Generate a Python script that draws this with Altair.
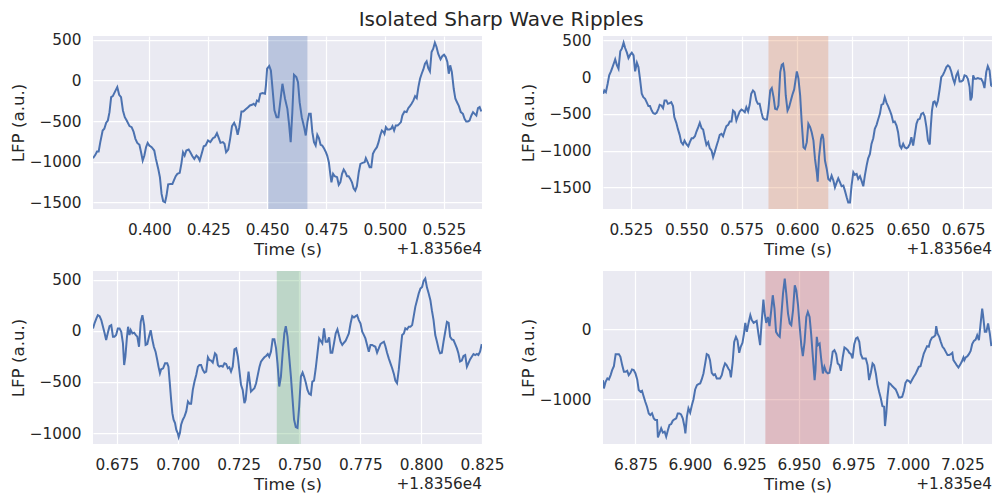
import altair as alt
import pandas as pd

# ---------------- data (time relative to axis offset, LFP a.u.) ----------------
t1 = [0.3761, 0.3771, 0.3778, 0.3785, 0.3792, 0.3802, 0.3809, 0.3817, 0.3824, 0.3831,
      0.3838, 0.3845, 0.3855, 0.3864, 0.3872, 0.3880, 0.3888, 0.3896, 0.3904, 0.3916,
      0.3925, 0.3933, 0.3941, 0.3949, 0.3958, 0.3965, 0.3972, 0.3979, 0.3986, 0.3993,
      0.4000, 0.4010, 0.4021, 0.4028, 0.4038, 0.4045, 0.4052, 0.4059, 0.4067, 0.4073,
      0.4080, 0.4090, 0.4098, 0.4104, 0.4112, 0.4119, 0.4129, 0.4136, 0.4143, 0.4150,
      0.4157, 0.4167, 0.4174, 0.4183, 0.4191, 0.4200, 0.4207, 0.4214, 0.4221, 0.4231,
      0.4239, 0.4249, 0.4259, 0.4270, 0.4278, 0.4287, 0.4295, 0.4302, 0.4312, 0.4319,
      0.4326, 0.4335, 0.4343, 0.4351, 0.4360, 0.4368, 0.4375, 0.4382, 0.4391, 0.4399,
      0.4408, 0.4418, 0.4427, 0.4436, 0.4443, 0.4450, 0.4457, 0.4464, 0.4471, 0.4481,
      0.4491, 0.4495, 0.4500, 0.4509, 0.4516, 0.4523, 0.4531, 0.4540, 0.4548, 0.4565,
      0.4576, 0.4586, 0.4593, 0.4600, 0.4607, 0.4614, 0.4624, 0.4631, 0.4638, 0.4647,
      0.4657, 0.4664, 0.4671, 0.4678, 0.4685, 0.4692, 0.4699, 0.4706, 0.4713, 0.4720,
      0.4727, 0.4734, 0.4741, 0.4748, 0.4755, 0.4762, 0.4769, 0.4773, 0.4780, 0.4787,
      0.4797, 0.4804, 0.4811, 0.4818, 0.4825, 0.4832, 0.4839, 0.4846, 0.4853, 0.4860,
      0.4867, 0.4874, 0.4881, 0.4889, 0.4896, 0.4905, 0.4914, 0.4919, 0.4928, 0.4935,
      0.4942, 0.4949, 0.4956, 0.4966, 0.4973, 0.4980, 0.4987, 0.4994, 0.4998, 0.5004,
      0.5011, 0.5019, 0.5026, 0.5032, 0.5039, 0.5046, 0.5054, 0.5061, 0.5068, 0.5074,
      0.5083, 0.5092, 0.5099, 0.5106, 0.5113, 0.5121, 0.5128, 0.5135, 0.5142, 0.5149,
      0.5156, 0.5163, 0.5170, 0.5177, 0.5184, 0.5191, 0.5198, 0.5205, 0.5212, 0.5219,
      0.5226, 0.5236, 0.5244, 0.5251, 0.5258, 0.5265, 0.5271, 0.5277, 0.5284, 0.5292,
      0.5299, 0.5307, 0.5314, 0.5322, 0.5331, 0.5338, 0.5345, 0.5352, 0.5359, 0.5367,
      0.5374, 0.5381, 0.5388, 0.5395, 0.5402, 0.5409]
v1 = [-956, -915, -874, -874, -759, -616, -595, -521, -493, -390,
      -205, -193, -135, -82, -177, -205, -369, -452, -493, -562,
      -575, -628, -718, -768, -792, -883, -985, -924, -821, -768,
      -800, -821, -862, -965, -1088, -1190, -1396, -1486, -1498, -1416,
      -1277, -1273, -1273, -1232, -1178, -1149, -1137, -1026, -883, -924,
      -862, -850, -883, -932, -965, -924, -944, -985, -915, -809,
      -800, -739, -759, -710, -698, -649, -710, -768, -759, -780,
      -883, -850, -718, -562, -521, -575, -669, -575, -382, -382,
      -357, -333, -308, -300, -287, -308, -246, -259, -164, -156,
      -164, -62, 144, 177, 123, -103, -369, -452, -452, -41,
      -226, -349, -534, -759, -390, 70, 41, -21, -267, -452,
      -575, -677, -513, -411, -411, -636, -759, -800, -669, -710,
      -792, -800, -833, -874, -924, -1006, -1170, -1252, -1149, -1178,
      -1190, -1285, -1252, -1149, -1096, -1129, -1178, -1178, -1211, -1252,
      -1326, -1355, -1301, -1129, -1026, -1014, -1006, -956, -1014, -1067,
      -1067, -903, -862, -821, -759, -677, -616, -636, -657, -575,
      -603, -603, -595, -562, -616, -554, -554, -534, -513, -431,
      -382, -390, -341, -316, -287, -246, -193, -218, -82, 21,
      82, 135, 205, 234, 152, 111, 349, 390, 464, 411,
      328, 259, 300, 316, 287, 226, 82, 185, 103, -103,
      -226, -275, -316, -390, -411, -472, -505, -505, -493, -431,
      -390, -411, -431, -341, -328, -382]

t2 = [0.5125, 0.5130, 0.5137, 0.5145, 0.5152, 0.5160, 0.5167, 0.5175, 0.5179, 0.5187,
      0.5194, 0.5202, 0.5209, 0.5217, 0.5224, 0.5232, 0.5239, 0.5247, 0.5254, 0.5262,
      0.5269, 0.5277, 0.5284, 0.5291, 0.5299, 0.5306, 0.5314, 0.5321, 0.5329, 0.5336,
      0.5344, 0.5351, 0.5359, 0.5366, 0.5374, 0.5380, 0.5387, 0.5395, 0.5402, 0.5410,
      0.5417, 0.5425, 0.5432, 0.5440, 0.5446, 0.5455, 0.5462, 0.5470, 0.5477, 0.5485,
      0.5492, 0.5500, 0.5509, 0.5516, 0.5524, 0.5531, 0.5539, 0.5546, 0.5554, 0.5561,
      0.5569, 0.5576, 0.5584, 0.5591, 0.5599, 0.5606, 0.5614, 0.5621, 0.5629, 0.5636,
      0.5644, 0.5651, 0.5659, 0.5666, 0.5674, 0.5681, 0.5689, 0.5696, 0.5704, 0.5711,
      0.5719, 0.5726, 0.5734, 0.5741, 0.5749, 0.5756, 0.5764, 0.5771, 0.5779, 0.5786,
      0.5793, 0.5801, 0.5808, 0.5816, 0.5823, 0.5831, 0.5839, 0.5846, 0.5854, 0.5864,
      0.5871, 0.5879, 0.5886, 0.5894, 0.5901, 0.5909, 0.5916, 0.5924, 0.5931, 0.5937,
      0.5943, 0.5949, 0.5957, 0.5964, 0.5972, 0.5979, 0.5987, 0.5994, 0.5999, 0.6006,
      0.6014, 0.6021, 0.6029, 0.6036, 0.6044, 0.6051, 0.6059, 0.6066, 0.6074, 0.6081,
      0.6089, 0.6093, 0.6099, 0.6108, 0.6114, 0.6119, 0.6126, 0.6134, 0.6141, 0.6149,
      0.6156, 0.6164, 0.6171, 0.6179, 0.6186, 0.6194, 0.6201, 0.6209, 0.6216, 0.6224,
      0.6231, 0.6239, 0.6246, 0.6254, 0.6261, 0.6269, 0.6276, 0.6284, 0.6291, 0.6299,
      0.6306, 0.6314, 0.6321, 0.6329, 0.6336, 0.6344, 0.6351, 0.6359, 0.6366, 0.6374,
      0.6381, 0.6389, 0.6396, 0.6404, 0.6411, 0.6419, 0.6426, 0.6434, 0.6441, 0.6449,
      0.6456, 0.6464, 0.6471, 0.6479, 0.6486, 0.6494, 0.6501, 0.6509, 0.6516, 0.6524,
      0.6531, 0.6539, 0.6546, 0.6554, 0.6561, 0.6569, 0.6576, 0.6584, 0.6591, 0.6599,
      0.6603, 0.6609, 0.6615, 0.6621, 0.6629, 0.6636, 0.6644, 0.6651, 0.6659, 0.6666,
      0.6674, 0.6681, 0.6689, 0.6696, 0.6704, 0.6711, 0.6719, 0.6726, 0.6734, 0.6741,
      0.6749, 0.6756, 0.6764, 0.6771, 0.6779, 0.6783, 0.6789, 0.6795, 0.6801, 0.6809,
      0.6816, 0.6824, 0.6831, 0.6839, 0.6846, 0.6854, 0.6861, 0.6869, 0.6876, 0.6883]
v2 = [-227, -182, -205, -91, 23, 77, 136, 205, 241, 159,
      114, 350, 386, 468, 395, 332, 259, 305, 332, 295,
      77, 195, 136, -23, -227, -273, -295, -341, -395, -395,
      -455, -491, -500, -486, -432, -377, -386, -423, -318, -318,
      -364, -355, -341, -395, -545, -623, -705, -786, -886, -918,
      -864, -909, -941, -886, -832, -832, -805, -741, -682, -623,
      -695, -714, -832, -923, -886, -968, -1000, -1091, -1014, -941,
      -864, -786, -773, -805, -727, -668, -650, -605, -605, -455,
      -477, -591, -523, -468, -441, -455, -477, -409, -468, -377,
      -227, -182, -205, -318, -364, -364, -477, -559, -577, -577,
      -432, -182, -150, -273, -432, -441, -386, 68, 168, 182,
      68, -250, -455, -409, -318, -241, -168, -23, 77, -14,
      -250, -614, -955, -977, -886, -636, -682, -750, -864, -1114,
      -1295, -1423, -1091, -841, -773, -841, -1136, -1250, -1386, -1409,
      -1341, -1409, -1500, -1432, -1377, -1432, -1486, -1477, -1545, -1636,
      -1705, -1705, -1477, -1295, -1332, -1318, -1386, -1350, -1409, -1486,
      -1341, -1205, -1105, -1045, -909, -832, -705, -650, -577, -500,
      -377, -364, -273, -350, -395, -455, -514, -614, -605, -659,
      -750, -932, -968, -909, -955, -968, -955, -909, -818, -932,
      -795, -636, -577, -568, -500, -486, -532, -682, -864, -918,
      -705, -455, -341, -332, -386, -318, -159, 0, 32, 77,
      136, 159, 136, 77, -23, -82, 23, 68, -59, -59,
      -45, 23, 14, -23, -136, -318, -273, 23, -23, -23,
      -14, -23, -23, -68, -150, 68, 150, 91, -114, -127]

t3 = [0.6652, 0.6659, 0.6666, 0.6672, 0.6679, 0.6686, 0.6693, 0.6700, 0.6706, 0.6713,
      0.6720, 0.6727, 0.6734, 0.6740, 0.6747, 0.6754, 0.6761, 0.6768, 0.6775, 0.6780,
      0.6785, 0.6791, 0.6796, 0.6802, 0.6807, 0.6814, 0.6821, 0.6828, 0.6834, 0.6841,
      0.6848, 0.6855, 0.6862, 0.6868, 0.6875, 0.6882, 0.6889, 0.6896, 0.6902, 0.6909,
      0.6916, 0.6921, 0.6927, 0.6932, 0.6940, 0.6948, 0.6957, 0.6962, 0.6967, 0.6973,
      0.6978, 0.6983, 0.6989, 0.6994, 0.7000, 0.7004, 0.7009, 0.7014, 0.7021, 0.7028,
      0.7035, 0.7042, 0.7049, 0.7055, 0.7062, 0.7069, 0.7076, 0.7083, 0.7089, 0.7096,
      0.7103, 0.7110, 0.7117, 0.7124, 0.7130, 0.7137, 0.7144, 0.7153, 0.7159, 0.7165,
      0.7171, 0.7178, 0.7185, 0.7192, 0.7199, 0.7206, 0.7212, 0.7219, 0.7226, 0.7233,
      0.7240, 0.7247, 0.7253, 0.7260, 0.7267, 0.7274, 0.7279, 0.7285, 0.7291, 0.7296,
      0.7301, 0.7308, 0.7315, 0.7322, 0.7329, 0.7336, 0.7342, 0.7349, 0.7356, 0.7363,
      0.7370, 0.7376, 0.7383, 0.7390, 0.7397, 0.7404, 0.7410, 0.7417, 0.7424, 0.7431,
      0.7438, 0.7444, 0.7451, 0.7458, 0.7465, 0.7472, 0.7478, 0.7485, 0.7492, 0.7499,
      0.7506, 0.7513, 0.7519, 0.7526, 0.7533, 0.7540, 0.7547, 0.7553, 0.7560, 0.7567,
      0.7574, 0.7581, 0.7587, 0.7594, 0.7601, 0.7608, 0.7615, 0.7622, 0.7628, 0.7635,
      0.7642, 0.7649, 0.7656, 0.7662, 0.7669, 0.7676, 0.7683, 0.7690, 0.7696, 0.7703,
      0.7710, 0.7717, 0.7724, 0.7731, 0.7737, 0.7744, 0.7751, 0.7758, 0.7765, 0.7771,
      0.7778, 0.7785, 0.7792, 0.7799, 0.7806, 0.7812, 0.7819, 0.7826, 0.7833, 0.7840,
      0.7847, 0.7853, 0.7860, 0.7867, 0.7874, 0.7881, 0.7888, 0.7894, 0.7901, 0.7908,
      0.7915, 0.7922, 0.7929, 0.7935, 0.7942, 0.7949, 0.7956, 0.7963, 0.7969, 0.7976,
      0.7983, 0.7990, 0.7997, 0.8004, 0.8010, 0.8017, 0.8024, 0.8031, 0.8038, 0.8044,
      0.8051, 0.8058, 0.8065, 0.8072, 0.8078, 0.8085, 0.8092, 0.8099, 0.8106, 0.8113,
      0.8119, 0.8126, 0.8133, 0.8140, 0.8147, 0.8153, 0.8160, 0.8167, 0.8174, 0.8181,
      0.8188, 0.8194, 0.8201, 0.8208, 0.8215, 0.8222, 0.8229, 0.8235, 0.8242, 0.8249]
v3 = [23, 78, 120, 152, 143, 104, 39, -26, -91, -19,
      45, 55, -58, -58, -42, 23, 23, -10, -123, -334,
      -253, -75, 39, -42, 6, -26, -19, -42, -58, -156,
      87, 152, 55, -139, -130, -58, 6, -91, -156, -204,
      -285, -350, -415, -376, -366, -318, -318, -350, -496, -674,
      -804, -868, -901, -966, -998, -1037, -998, -917, -868, -836,
      -787, -690, -713, -713, -577, -496, -431, -350, -334, -334,
      -382, -408, -399, -259, -285, -292, -311, -220, -237, -334,
      -350, -343, -350, -318, -324, -366, -356, -399, -350, -181,
      -172, -253, -382, -528, -577, -706, -674, -528, -399, -496,
      -593, -577, -561, -512, -431, -350, -301, -279, -259, -246,
      -227, -253, -204, -84, -84, -172, -318, -544, -447, -220,
      -26, 45, -58, -253, -447, -674, -868, -940, -949, -739,
      -447, -408, -447, -505, -577, -616, -626, -496, -486, -366,
      -220, -75, -97, -123, 23, -107, -107, -65, -214, -214,
      -123, -26, 13, -42, -107, -139, -117, -97, -65, -26,
      71, 143, 130, 143, 152, 104, 71, -10, -42, -75,
      -139, -204, -139, -139, -149, -156, -214, -172, -130, -117,
      -107, -149, -214, -269, -318, -366, -421, -486, -512, -382,
      -204, -42, -26, 23, 13, 39, 39, 55, 136, 233,
      298, 363, 411, 428, 486, 509, 421, 363, 298, 201,
      104, -42, -107, -181, -220, -214, -107, -10, 87, 78,
      -58, -84, -91, -130, -172, -220, -301, -292, -246, -237,
      -350, -318, -279, -253, -227, -237, -227, -237, -204, -130]

t4 = [6.8601, 6.8605, 6.8613, 6.8621, 6.8628, 6.8636, 6.8643, 6.8651, 6.8659, 6.8666,
      6.8674, 6.8681, 6.8689, 6.8697, 6.8704, 6.8712, 6.8719, 6.8727, 6.8734, 6.8742,
      6.8750, 6.8758, 6.8765, 6.8773, 6.8780, 6.8788, 6.8795, 6.8803, 6.8811, 6.8818,
      6.8826, 6.8834, 6.8841, 6.8849, 6.8853, 6.8861, 6.8868, 6.8876, 6.8884, 6.8891,
      6.8899, 6.8906, 6.8914, 6.8921, 6.8929, 6.8937, 6.8944, 6.8952, 6.8959, 6.8967,
      6.8975, 6.8979, 6.8986, 6.8993, 6.9001, 6.9009, 6.9016, 6.9024, 6.9032, 6.9039,
      6.9047, 6.9054, 6.9062, 6.9070, 6.9077, 6.9085, 6.9092, 6.9100, 6.9108, 6.9115,
      6.9123, 6.9130, 6.9138, 6.9146, 6.9153, 6.9161, 6.9168, 6.9176, 6.9183, 6.9188,
      6.9196, 6.9203, 6.9211, 6.9218, 6.9226, 6.9233, 6.9241, 6.9248, 6.9254, 6.9261,
      6.9269, 6.9277, 6.9284, 6.9292, 6.9299, 6.9306, 6.9314, 6.9322, 6.9328, 6.9337,
      6.9343, 6.9350, 6.9358, 6.9365, 6.9373, 6.9380, 6.9388, 6.9395, 6.9404, 6.9412,
      6.9420, 6.9427, 6.9435, 6.9442, 6.9450, 6.9458, 6.9465, 6.9473, 6.9481, 6.9488,
      6.9496, 6.9503, 6.9511, 6.9518, 6.9526, 6.9534, 6.9541, 6.9549, 6.9556, 6.9564,
      6.9572, 6.9576, 6.9582, 6.9587, 6.9595, 6.9602, 6.9610, 6.9617, 6.9625, 6.9633,
      6.9640, 6.9648, 6.9655, 6.9663, 6.9671, 6.9678, 6.9686, 6.9693, 6.9701, 6.9709,
      6.9716, 6.9724, 6.9731, 6.9739, 6.9746, 6.9754, 6.9762, 6.9769, 6.9777, 6.9784,
      6.9792, 6.9800, 6.9807, 6.9815, 6.9822, 6.9830, 6.9838, 6.9845, 6.9853, 6.9860,
      6.9868, 6.9876, 6.9883, 6.9891, 6.9895, 6.9901, 6.9906, 6.9913, 6.9921, 6.9928,
      6.9936, 6.9944, 6.9951, 6.9959, 6.9966, 6.9974, 6.9982, 6.9989, 6.9997, 7.0004,
      7.0012, 7.0020, 7.0027, 7.0035, 7.0042, 7.0050, 7.0058, 7.0065, 7.0073, 7.0080,
      7.0088, 7.0096, 7.0103, 7.0111, 7.0118, 7.0126, 7.0130, 7.0136, 7.0144, 7.0151,
      7.0159, 7.0166, 7.0174, 7.0182, 7.0189, 7.0197, 7.0204, 7.0209, 7.0217, 7.0224,
      7.0232, 7.0239, 7.0247, 7.0255, 7.0259, 7.0265, 7.0273, 7.0280, 7.0288, 7.0295,
      7.0303, 7.0311, 7.0318, 7.0326, 7.0333, 7.0341, 7.0345, 7.0353, 7.0360, 7.0368,
      7.0376, 7.0383]
v4 = [-729, -848, -752, -705, -719, -657, -586, -529, -357, -357,
      -357, -395, -514, -610, -610, -595, -657, -624, -576, -586,
      -633, -719, -871, -895, -881, -967, -1038, -1110, -1205, -1229,
      -1205, -1276, -1300, -1300, -1548, -1481, -1419, -1481, -1467, -1538,
      -1443, -1371, -1357, -1310, -1290, -1276, -1205, -1205, -1219, -1276,
      -1395, -1490, -1252, -1133, -1195, -1086, -1005, -862, -800, -786,
      -776, -719, -633, -490, -357, -371, -443, -624, -657, -643,
      -705, -705, -705, -657, -562, -490, -514, -562, -595, -690,
      -467, -181, -110, -157, -338, -252, -195, -62, 90, -38,
      90, 200, 129, 90, 105, 119, -62, -229, 57, 424,
      224, 90, 176, 43, 271, 486, 295, -38, -86, -110,
      224, 510, 724, 510, 224, 81, 57, 271, 629, 557,
      343, 57, -229, -386, -181, 176, 248, 176, -62, -395,
      -729, -586, -110, -229, -205, -419, -633, -538, -610, -633,
      -624, -490, -324, -300, -357, -490, -514, -595, -405, -262,
      -276, -300, -338, -357, -419, -214, -133, -119, -181, -357,
      -419, -419, -419, -514, -729, -624, -490, -514, -633, -786,
      -895, -991, -1100, -1110, -1386, -1205, -976, -767, -786, -814,
      -838, -862, -910, -976, -976, -967, -881, -767, -729, -738,
      -767, -719, -681, -643, -595, -538, -529, -443, -348, -300,
      -243, -252, -167, -119, -110, -86, 43, -62, -110, -181,
      -252, -276, -324, -371, -371, -357, -338, -443, -481, -514,
      -548, -514, -467, -405, -443, -405, -386, -357, -310, -214,
      -167, -148, -86, -157, 57, 295, 200, -38, -38, 81,
      -62, -243]

# per-panel axis settings
x_domains = [(0.3761, 0.5412), (0.5124, 0.6880), (0.6652, 0.8250), (6.8601, 7.0386)]
y_domains = [(-1581, 546), (-1795, 559), (-1105, 583), (-1643, 833)]
x_ticks = [[0.400, 0.425, 0.450, 0.475, 0.500, 0.525],
           [0.525, 0.550, 0.575, 0.600, 0.625, 0.650, 0.675],
           [0.675, 0.700, 0.725, 0.750, 0.775, 0.800, 0.825],
           [6.875, 6.900, 6.925, 6.950, 6.975, 7.000, 7.025]]
y_ticks = [[-1500, -1000, -500, 0, 500], [-1500, -1000, -500, 0, 500],
           [-1000, -500, 0, 500], [-1000, 0]]
ripple_start = [0.4505, 0.5871, 0.7407, 6.9346]
ripple_end = [0.4671, 0.6141, 0.7505, 6.9639]
shade_colors = ["#4c72b0", "#dd8452", "#55a868", "#c44e52"]
offset_labels = ["+1.8356e4", "+1.8356e4", "+1.8356e4", "+1.835e4"]

FONT = "DejaVu Sans"
TXT = "#262626"
W, H = 389, 173
MINUS_LABEL = "datum.value < 0 ? '\u2212' + format(-datum.value, 'd') : format(datum.value, 'd')"


def panel(i, t, v):
    assert len(t) == len(v), (i, len(t), len(v))
    xs = alt.Scale(domain=list(x_domains[i]), nice=False, zero=False)
    ys = alt.Scale(domain=list(y_domains[i]), nice=False, zero=False)
    xaxis = alt.Axis(values=x_ticks[i], format=".3f", title="Time (s)",
                     labelFlush=False, labelOverlap=False)
    yaxis = alt.Axis(values=y_ticks[i], labelExpr=MINUS_LABEL, title="LFP (a.u.)",
                     labelOverlap=False)
    band = alt.Chart(pd.DataFrame({"s": [ripple_start[i]], "e": [ripple_end[i]]})).mark_rect(
        color=shade_colors[i], opacity=0.3
    ).encode(x=alt.X("s:Q", scale=xs, axis=xaxis), x2="e:Q")
    line = alt.Chart(pd.DataFrame({"t": t, "v": v})).mark_line(
        color="#4c72b0", strokeWidth=2, clip=True
    ).encode(x=alt.X("t:Q", scale=xs, axis=xaxis), y=alt.Y("v:Q", scale=ys, axis=yaxis))
    off = alt.Chart(pd.DataFrame({"o": [offset_labels[i]]})).mark_text(
        align="right", baseline="alphabetic", fontSize=15.3, font=FONT, color=TXT
    ).encode(text="o:N", x=alt.value(W), y=alt.value(H + 45))
    return alt.layer(band, line, off).properties(width=W, height=H)


p1 = panel(0, t1, v1)
p2 = panel(1, t2, v2)
p3 = panel(2, t3, v3)
p4 = panel(3, t4, v4)

chart = alt.concat(
    p1, p2, p3, p4, columns=2, spacing={"row": 62, "column": 121},
).properties(
    bounds="flush",
    title=alt.Title("Isolated Sharp Wave Ripples", fontSize=20, font=FONT, color=TXT,
                    fontWeight="normal", anchor="middle", offset=3),
    padding={"left": 2, "top": 1, "right": 0, "bottom": 0},
).configure_view(
    fill="#eaeaf2", stroke=None
).configure_axis(
    domain=False, ticks=False, tickSize=0,
    labelFont=FONT, labelFontSize=15.3, labelColor=TXT,
    titleFont=FONT, titleFontSize=16.7, titleFontWeight="normal", titleColor=TXT,
    gridColor="#ffffff", gridWidth=1.25, gridOpacity=1,
).configure_axisX(
    labelPadding=13, titlePadding=4
).configure_axisY(
    labelPadding=12, titlePadding=2
)

chart.save("out.html", embed_options={"renderer": "svg", "actions": False})
